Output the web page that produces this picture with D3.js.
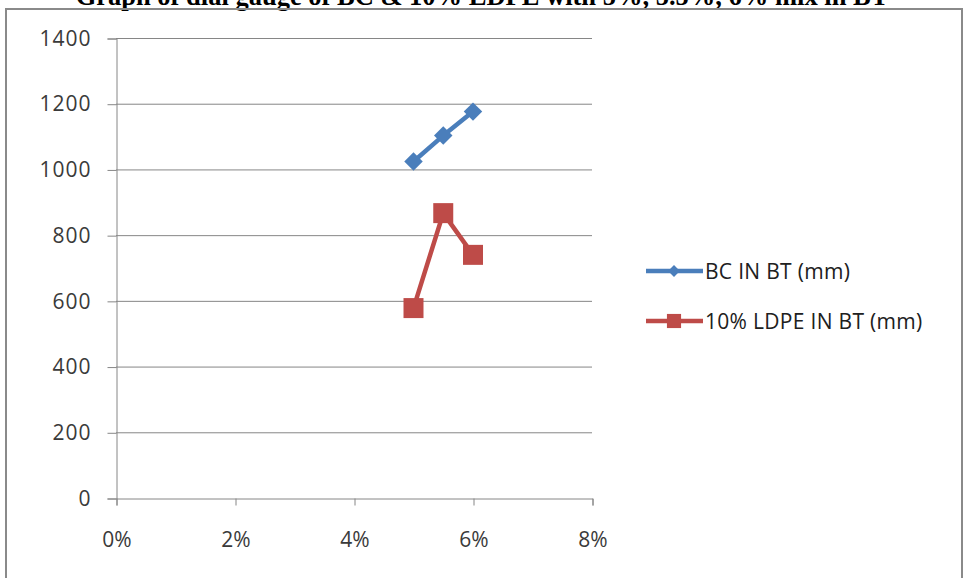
<!DOCTYPE html>
<html>
<head>
<meta charset="utf-8">
<script src="https://cdn.jsdelivr.net/npm/d3@7"></script>
<style>
  html, body { margin: 0; padding: 0; background: #fff; }
  svg { display: block; }
</style>
</head>
<body>
<svg id="chart" width="963" height="578"></svg>
<script>
// Dial gauge readings (mm) against mix percentage
const mixPercent = [0.05, 0.055, 0.06];
const bcValues = [1024, 1103, 1176];
const ldpeValues = [578, 867, 740];
const seriesNames = ["BC IN BT (mm)", "10% LDPE IN BT (mm)"];
const seriesColors = ["#4A7EBB", "#BE4B48"];
const yTicks = [0, 200, 400, 600, 800, 1000, 1200, 1400];
const xTicks = [0, 0.02, 0.04, 0.06, 0.08];
const titleText = "Graph of dial gauge of BC & 10% LDPE with 5%, 5.5%, 6% mix in BT";

const svg = d3.select("#chart");
const plot = { left: 116, right: 592, top: 38, bottom: 498 };
const labelFont = "Open Sans, Liberation Sans, sans-serif";

const x = d3.scaleLinear().domain([0, 0.08]).range([plot.left, plot.right]);
const y = d3.scaleLinear().domain([0, 1400]).range([plot.bottom, plot.top]);

// Title, sitting above the chart frame
svg.append("text")
  .attr("x", 482).attr("y", 5)
  .attr("text-anchor", "middle")
  .attr("font-family", "Liberation Serif, Times New Roman, serif")
  .attr("font-weight", "bold")
  .attr("font-size", 26.5)
  .attr("fill", "#000")
  .text(titleText);

// Chart frame
svg.append("rect")
  .attr("x", 6).attr("y", 9)
  .attr("width", 956).attr("height", 600)
  .attr("fill", "none")
  .attr("stroke", "#8a8a8a")
  .attr("stroke-width", 2);

// Horizontal gridlines
svg.append("g")
  .selectAll("line")
  .data(yTicks.filter(d => d > 0))
  .join("line")
  .attr("x1", plot.left).attr("x2", plot.right)
  .attr("y1", d => y(d) + 0.5).attr("y2", d => y(d) + 0.5)
  .attr("stroke", "#868686").attr("stroke-width", 1);

// Y axis
const yAxis = svg.append("g")
  .attr("transform", `translate(${plot.left + 0.5},0.5)`)
  .call(d3.axisLeft(y).tickValues(yTicks).tickSize(9).tickPadding(16).tickFormat(d3.format("d")));
yAxis.select(".domain").attr("stroke", "#868686");
yAxis.selectAll(".tick line").attr("stroke", "#868686");
yAxis.selectAll("text")
  .attr("font-family", labelFont)
  .attr("font-size", 21).attr("letter-spacing", 1).attr("fill", "#3a3a3a");

// X axis
const xAxis = svg.append("g")
  .attr("transform", `translate(0.5,${plot.bottom + 0.5})`)
  .call(d3.axisBottom(x).tickValues(xTicks).tickSize(7).tickPadding(27).tickFormat(d3.format(".0%")));
xAxis.select(".domain").attr("stroke", "#868686");
xAxis.selectAll(".tick line").attr("stroke", "#868686");
xAxis.selectAll("text")
  .attr("font-family", labelFont)
  .attr("font-size", 21).attr("fill", "#3a3a3a");

// Diamond markers are squares turned by 45 degrees
const series = [
  { name: seriesNames[0], color: seriesColors[0], values: bcValues, marker: d3.symbolSquare, rot: 45, size: 170, width: 4.5, legendSize: 70 },
  { name: seriesNames[1], color: seriesColors[1], values: ldpeValues, marker: d3.symbolSquare, rot: 0, size: 400, width: 4.5, legendSize: 200 }
];

const line = d3.line().x(d => x(d[0])).y(d => y(d[1]));

series.forEach(s => {
  const pts = mixPercent.map((m, i) => [m, s.values[i]]);
  svg.append("path")
    .datum(pts)
    .attr("d", line)
    .attr("fill", "none")
    .attr("stroke", s.color)
    .attr("stroke-width", s.width)
    .attr("stroke-linejoin", "round");
  svg.append("g")
    .selectAll("path")
    .data(pts)
    .join("path")
    .attr("transform", d => `translate(${x(d[0])},${y(d[1])}) rotate(${s.rot})`)
    .attr("d", d3.symbol().type(s.marker).size(s.size))
    .attr("fill", s.color);
});

// Legend
const legend = svg.append("g").attr("transform", "translate(646,271)");
series.forEach((s, i) => {
  const g = legend.append("g").attr("transform", `translate(0,${i * 50})`);
  g.append("line")
    .attr("x1", 0).attr("x2", 57).attr("y1", 0).attr("y2", 0)
    .attr("stroke", s.color).attr("stroke-width", s.width);
  g.append("path")
    .attr("transform", `translate(28,0) rotate(${s.rot})`)
    .attr("d", d3.symbol().type(s.marker).size(s.legendSize))
    .attr("fill", s.color);
  g.append("text")
    .attr("x", 59).attr("y", 0).attr("dy", "0.36em")
    .attr("font-family", labelFont)
    .attr("font-size", 21).attr("letter-spacing", 0.3).attr("fill", "#202020")
    .text(s.name);
});
</script>
</body>
</html>
